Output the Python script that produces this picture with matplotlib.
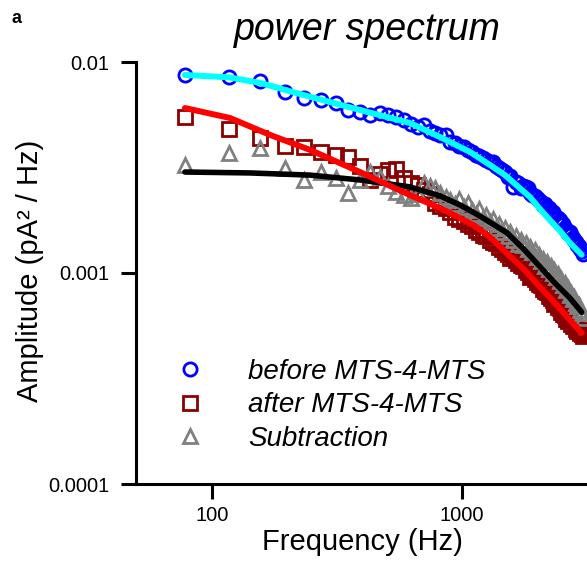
import matplotlib
matplotlib.use('Agg')
import matplotlib.pyplot as plt
import numpy as np

plt.rcParams['font.family'] = ['Liberation Sans', 'DejaVu Sans']

# frequency bins (Hz), 39.0625 Hz spacing
freq = [39.0625 * k for k in range(2, 79)]

before = [0.00868, 0.00849, 0.00813, 0.00720, 0.00675, 0.00661, 0.00640, 0.00592,
          0.00580, 0.00561, 0.00573, 0.00561, 0.00549, 0.00531, 0.00508, 0.00492,
          0.00503, 0.00471, 0.00460, 0.00451, 0.00451, 0.00418, 0.00414, 0.00400,
          0.00395, 0.00383, 0.00375, 0.00363, 0.00359, 0.00351, 0.00343, 0.00336,
          0.00336, 0.00322, 0.00315, 0.00308, 0.00301, 0.00286, 0.00289, 0.00256,
          0.00270, 0.00267, 0.00253, 0.00258, 0.00256, 0.00253, 0.00240, 0.00234,
          0.00232, 0.00227, 0.00222, 0.00218, 0.00210, 0.00212, 0.00206, 0.00204,
          0.00197, 0.00195, 0.00188, 0.00181, 0.00183, 0.00178, 0.00172, 0.00170,
          0.00163, 0.00160, 0.00155, 0.00156, 0.00151, 0.00146, 0.00143, 0.00140,
          0.00136, 0.00134, 0.00130, 0.00127, 0.00123]

after = [0.00549, 0.00481, 0.00436, 0.00399, 0.00395, 0.00375, 0.00363, 0.00355,
         0.00322, 0.00276, 0.00295, 0.00308, 0.00311, 0.00282, 0.00267, 0.00261,
         0.00247, 0.00237, 0.00215, 0.00208, 0.00203, 0.00194, 0.00184, 0.00180,
         0.00176, 0.00171, 0.00167, 0.00160, 0.00156, 0.00151, 0.00150, 0.00143,
         0.00140, 0.00139, 0.00133, 0.00130, 0.00126, 0.00123, 0.00118, 0.00121,
         0.00115, 0.00111, 0.00109, 0.00108, 0.00103, 0.00101, 0.000957, 0.000978,
         0.000936, 0.000906, 0.000887, 0.000877, 0.000839, 0.000821, 0.000812, 0.000777,
         0.000760, 0.000744, 0.000713, 0.000720, 0.000690, 0.000682, 0.000653, 0.000639,
         0.000632, 0.000605, 0.000592, 0.000598, 0.000573, 0.000561, 0.000567, 0.000543,
         0.000531, 0.000537, 0.000520, 0.000514, 0.000503]

subtraction = [0.00325, 0.00371, 0.00391, 0.00315, 0.00276, 0.00301, 0.00282, 0.00239,
               0.00276, 0.00301, 0.00285, 0.00258, 0.00242, 0.00234, 0.00227, 0.00237,
               0.00267, 0.00258, 0.00252, 0.00239, 0.00229, 0.00222, 0.00212, 0.00224,
               0.00206, 0.00215, 0.00199, 0.00190, 0.00201, 0.00182, 0.00188, 0.00174,
               0.00180, 0.00163, 0.00171, 0.00156, 0.00163, 0.00150, 0.00156, 0.00143,
               0.00150, 0.00137, 0.00143, 0.00136, 0.00139, 0.00130, 0.00133, 0.00126,
               0.00128, 0.00119, 0.00122, 0.00114, 0.00116, 0.00108, 0.00113, 0.00105,
               0.00108, 0.00100, 0.00103, 0.000957, 0.000987, 0.000916, 0.000936, 0.000877,
               0.000895, 0.000830, 0.000847, 0.000786, 0.000803, 0.000752, 0.000769, 0.000720,
               0.000698, 0.000705, 0.000667, 0.000646, 0.000611]

fit_before_f = [78, 117, 156, 225, 391, 619, 817, 1076, 1294, 1486, 1871, 2051, 2249,
                2470, 2704, 3010]
fit_before = [0.00868, 0.00846, 0.00796, 0.00705, 0.00592, 0.00514, 0.00441, 0.00375,
              0.00325, 0.00291, 0.00229, 0.00201, 0.00178, 0.00158, 0.00139, 0.00122]
fit_after_f = [78, 118, 171, 247, 391, 619, 817, 982, 1127, 1294, 1514, 1786, 2051,
               2355, 2704, 3010]
fit_after = [0.00605, 0.00543, 0.00451, 0.00383, 0.00301, 0.00234, 0.00203, 0.00182,
             0.00167, 0.00148, 0.00124, 0.00103, 0.000858, 0.000720, 0.000598, 0.000520]
fit_sub_f = [78, 142, 247, 391, 619, 817, 982, 1127, 1294, 1514, 1786, 2051, 2355,
             2704, 3010]
fit_sub = [0.00301, 0.00298, 0.00291, 0.00276, 0.00256, 0.00232, 0.00210, 0.00192,
           0.00174, 0.00155, 0.00128, 0.00107, 0.000895, 0.000760, 0.000652]

W, H = 587, 573
fig = plt.figure(figsize=(W / 100, H / 100), dpi=100)
ax = fig.add_axes([136 / W, 1 - 484 / H, (W - 136) / W, (484 - 62) / H])

ms = 9.5
mew = 2.0
ax.plot(freq, after, 's', ms=ms, mfc='none', mec='#8b0000', mew=mew, label='after MTS-4-MTS', zorder=2)
ax.plot(freq, subtraction, '^', ms=ms, mfc='none', mec='#808080', mew=mew, label='Subtraction', zorder=2.1)
ax.plot(freq, before, 'o', ms=ms, mfc='none', mec='#0000ff', mew=mew, label='before MTS-4-MTS', zorder=2.2)

ax.plot(fit_sub_f, fit_sub, '-', color='black', lw=4, solid_capstyle='round',
        solid_joinstyle='round', zorder=3)
ax.plot(fit_after_f, fit_after, '-', color='#ff0000', lw=4.3, solid_capstyle='round',
        solid_joinstyle='round', zorder=3.1)
ax.plot(fit_before_f, fit_before, '-', color='#00ffff', lw=4.3, solid_capstyle='round',
        solid_joinstyle='round', zorder=3.2)

ax.set_xscale('log')
ax.set_yscale('log')
ax.set_xlim(49.7, 3162)
ax.set_ylim(1e-4, 1e-2)

ax.set_xticks([100, 1000])
ax.set_xticklabels(['100', '1000'])
ax.set_yticks([1e-4, 1e-3, 1e-2])
ax.set_yticklabels(['0.0001', '0.001', '0.01'])
ax.minorticks_off()

for s in ['top', 'right']:
    ax.spines[s].set_visible(False)
for s in ['left', 'bottom']:
    ax.spines[s].set_linewidth(2.2)
ax.tick_params(axis='both', direction='out', length=11, width=2.2, labelsize=14.5)
ax.tick_params(axis='x', pad=5)
ax.tick_params(axis='y', pad=8)

ax.set_xlabel('Frequency (Hz)', fontsize=21)
ax.xaxis.set_label_coords(0.503, -0.104)
ax.set_ylabel('Amplitude (pA² / Hz)', fontsize=21)
ax.yaxis.set_label_coords(-0.204, 0.505)

fig.text(367 / W, 1 - 40 / H, 'power spectrum', fontsize=27, style='italic',
         ha='center', va='baseline')
fig.text(12 / W, 1 - 23 / H, 'a', fontsize=13, weight='bold', ha='left', va='baseline')

handles, labels = ax.get_legend_handles_labels()
order = [2, 0, 1]
ax.legend([handles[i] for i in order], [labels[i] for i in order],
          loc='upper left', bbox_to_anchor=(0.0887, 0.296), frameon=False,
          borderpad=0, borderaxespad=0, handlelength=1.0, handletextpad=1.6,
          labelspacing=0.26, prop={'style': 'italic', 'size': 20})

fig.savefig('out.png', dpi=100)
